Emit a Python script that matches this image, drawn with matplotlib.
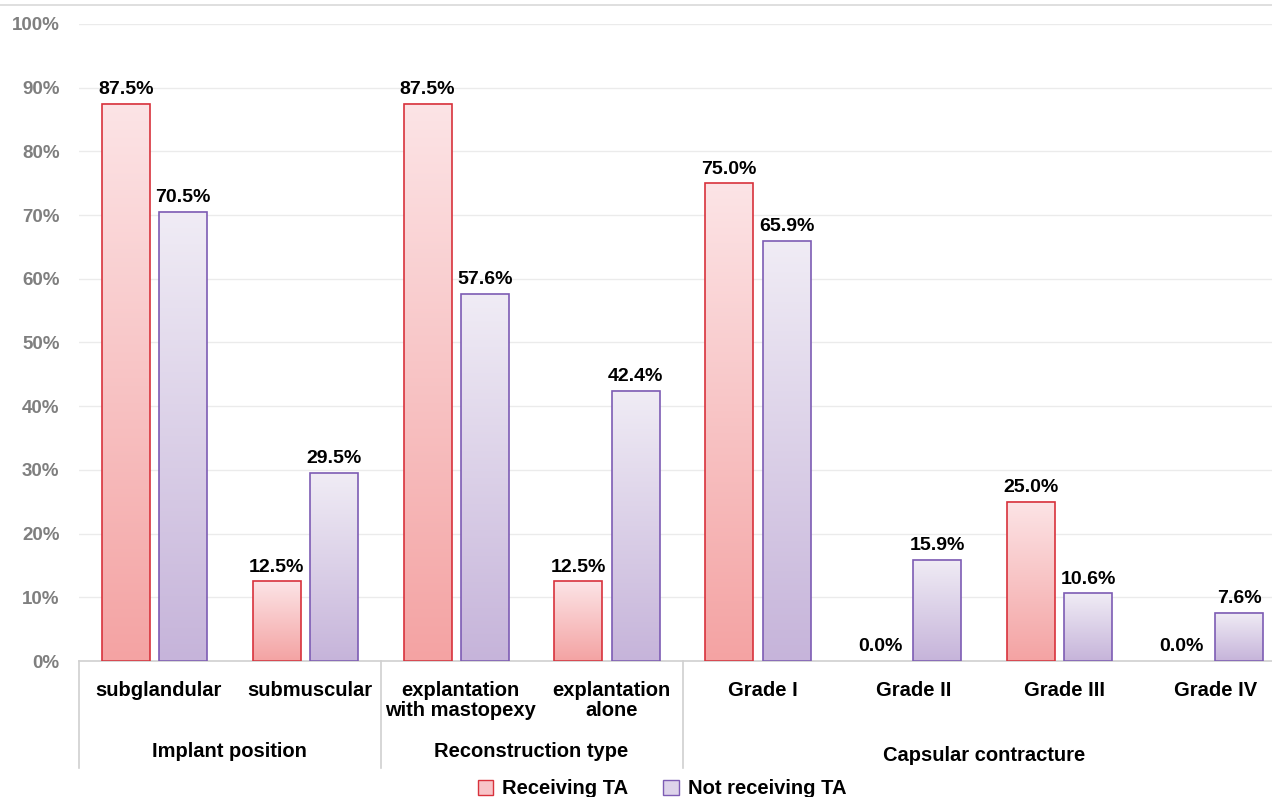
import numpy as np
import matplotlib.pyplot as plt
from matplotlib.colors import LinearSegmentedColormap
from matplotlib.patches import Patch

# Share of patients by implant position, reconstruction type and capsular contracture grade
categories = ['subglandular', 'submuscular', 'explantation\nwith mastopexy', 'explantation\nalone',
              'Grade I', 'Grade II', 'Grade III', 'Grade IV']
groups = ['Implant position', 'Reconstruction type', 'Capsular contracture']
group_spans = [(0, 2), (2, 4), (4, 8)]
receiving = [87.5, 12.5, 87.5, 12.5, 75.0, 0.0, 25.0, 0.0]
not_receiving = [70.5, 29.5, 57.6, 42.4, 65.9, 15.9, 10.6, 7.6]
series_names = ['Receiving TA', 'Not receiving TA']

plt.rcParams['font.family'] = ['Liberation Sans', 'DejaVu Sans']
plt.rcParams['font.weight'] = 'bold'

red_cmap = LinearSegmentedColormap.from_list('red_grad', ['#f4a3a3', '#fce4e6'])
pur_cmap = LinearSegmentedColormap.from_list('pur_grad', ['#c6b4da', '#f0ecf5'])
red_edge = '#d8323c'
pur_edge = '#7d5cb4'

fig = plt.figure(figsize=(12.72, 7.97), dpi=100)
ax = fig.add_axes([79 / 1272, 1 - 661 / 797, 1207 / 1272, 637 / 797])

x = np.arange(len(categories))
width = 0.318
offset = 0.19
grad = np.linspace(0, 1, 256).reshape(-1, 1)


def gradient_bars(xs, vals, cmap, edge):
    bars = ax.bar(xs, vals, width, facecolor='none', edgecolor=edge, linewidth=1.2, zorder=3)
    for b, v in zip(bars, vals):
        if v <= 0:
            b.set_visible(False)
            continue
        x0 = b.get_x()
        ax.imshow(grad, cmap=cmap, origin='lower', aspect='auto', zorder=2,
                  extent=(x0, x0 + width, 0, v), interpolation='bilinear')
    # value labels, zero bars included
    for xi, v in zip(xs, vals):
        ax.text(xi, v + 0.9, f'{v:.1f}%', ha='center', va='bottom',
                fontsize=14, fontweight='bold', color='black')
    return bars


gradient_bars(x - offset, receiving, red_cmap, red_edge)
gradient_bars(x + offset, not_receiving, pur_cmap, pur_edge)

ax.set_xlim(-0.5, 7.5)
ax.set_ylim(0, 100)
ax.set_yticks(np.arange(0, 101, 10))
ax.set_yticklabels([f'{t}%' for t in range(0, 101, 10)])
ax.tick_params(axis='y', length=0, pad=14, labelsize=13.5, labelcolor='#7f7f7f')
ax.tick_params(axis='x', length=0, labelbottom=False)
for lbl in ax.get_yticklabels():
    lbl.set_fontweight('bold')
ax.grid(axis='y', color='#ebebeb', linewidth=1, zorder=0)
for s in ['top', 'right', 'left']:
    ax.spines[s].set_visible(False)
ax.spines['bottom'].set_color('#d0d0d0')
ax.spines['bottom'].set_linewidth(1.2)

# category and group labels under the axis
for xi, c in zip(x, categories):
    ax.text(xi + 0.03, -3.2, c, ha='center', va='top', fontsize=14.5, fontweight='bold',
            linespacing=1.05, clip_on=False)
for (a, b), g in zip(group_spans, groups):
    yy = -14.8 if g == 'Capsular contracture' else -14.2
    ax.text((a + b - 1) / 2, yy, g, ha='center', va='center', fontsize=14.5,
            fontweight='bold', clip_on=False)
for sep in [-0.5, 1.5, 3.5]:
    ax.plot([sep, sep], [0, -16.8], color='#d0d0d0', linewidth=1.2, clip_on=False)

handles = [Patch(facecolor='#f8c4c8', edgecolor=red_edge),
           Patch(facecolor='#ddd3ea', edgecolor=pur_edge)]
fig.legend(handles, series_names, loc='center', bbox_to_anchor=(662 / 1272, 1 - 789 / 797),
           ncol=2, frameon=False, prop={'size': 14.5, 'weight': 'bold'},
           handlelength=0.75, handleheight=0.75, columnspacing=1.75, handletextpad=0.45)

# thin frame line across the top
fig.add_artist(plt.Line2D([0, 1], [1 - 5 / 797, 1 - 5 / 797], color='#d9d9d9', linewidth=1.2))

fig.savefig('out.png', dpi=100)
